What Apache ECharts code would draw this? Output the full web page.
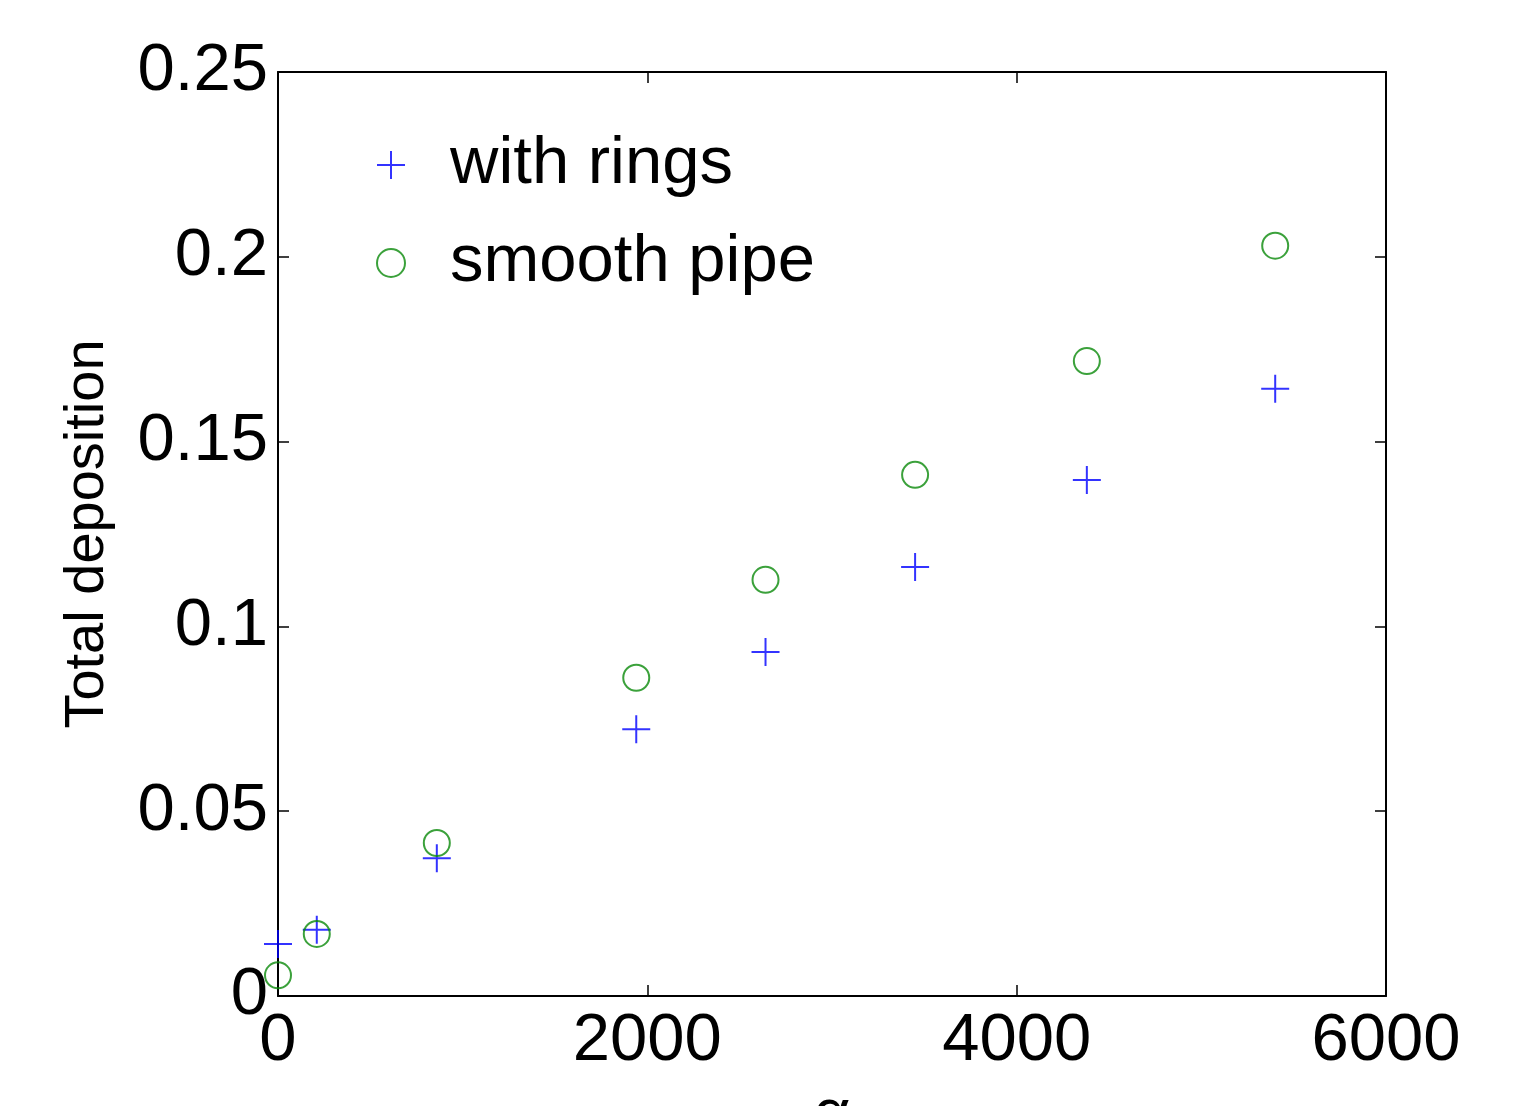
<!DOCTYPE html>
<html>
<head>
<meta charset="utf-8">
<script src="https://cdn.jsdelivr.net/npm/echarts@6/dist/echarts.min.js"></script>
<style>
html,body{margin:0;padding:0;background:#fff;}
#chart{width:1527px;height:1106px;}
</style>
</head>
<body>
<div id="chart"></div>
<script>
const alphaValues = [0, 210, 860, 1940, 2640, 3450, 4380, 5400];
const withRings = [0.0141, 0.0179, 0.0373, 0.0722, 0.0931, 0.1161, 0.1396, 0.1643];
const smoothPipe = [0.0056, 0.0168, 0.0414, 0.0861, 0.1126, 0.141, 0.1718, 0.203];
const seriesNames = ['with rings', 'smooth pipe'];
const xTicks = [0, 2000, 4000, 6000];
const yTicks = [0, 0.05, 0.1, 0.15, 0.2, 0.25];

const FONT = '"Liberation Sans", Arial, sans-serif';
const PLUS = 'path://M0,5 L10,5 M5,0 L5,10';

const chart = echarts.init(document.getElementById('chart'), null, {renderer: 'canvas'});

const axisLine = {show: true, onZero: false, lineStyle: {color: '#000', width: 2}};
const axisTick = {show: true, inside: true, length: 11, lineStyle: {color: '#000', width: 1.5}};

chart.setOption({
  backgroundColor: '#fff',
  animation: false,
  grid: {left: 278, right: 141, top: 72, bottom: 110, containLabel: false, outerBoundsMode: 'none'},
  legend: {
    orient: 'vertical',
    left: 371,
    top: 125,
    itemWidth: 28,
    itemHeight: 28,
    itemGap: 28,
    textStyle: {fontFamily: FONT, fontSize: 67, color: '#000', lineHeight: 70, padding: [0, 0, 0, 40]},
    data: seriesNames
  },
  xAxis: [
    {
      type: 'value', position: 'bottom', min: xTicks[0], max: xTicks[xTicks.length - 1], interval: 2000,
      axisLine: axisLine, axisTick: axisTick, splitLine: {show: false},
      axisLabel: {fontFamily: FONT, fontSize: 67, color: '#000', margin: 12, formatter: v => String(v)},
      name: 'α', nameLocation: 'middle', nameGap: 88,
      nameTextStyle: {fontFamily: FONT, fontSize: 64, color: '#000'}
    },
    {
      type: 'value', position: 'top', min: xTicks[0], max: xTicks[xTicks.length - 1], interval: 2000,
      axisLine: axisLine, axisTick: axisTick, splitLine: {show: false}, axisLabel: {show: false}
    }
  ],
  yAxis: [
    {
      type: 'value', position: 'left', min: yTicks[0], max: yTicks[yTicks.length - 1], interval: 0.05,
      axisLine: axisLine, axisTick: axisTick, splitLine: {show: false},
      axisLabel: {fontFamily: FONT, fontSize: 67, color: '#000', margin: 10},
      name: 'Total deposition', nameLocation: 'middle', nameGap: 162, nameRotate: 90,
      nameTextStyle: {fontFamily: FONT, fontSize: 56, color: '#000'}
    },
    {
      type: 'value', position: 'right', min: yTicks[0], max: yTicks[yTicks.length - 1], interval: 0.05,
      axisLine: axisLine, axisTick: axisTick, splitLine: {show: false}, axisLabel: {show: false}
    }
  ],
  series: [
    {
      name: seriesNames[0], type: 'scatter', clip: false,
      symbol: PLUS, symbolSize: 28,
      itemStyle: {color: 'rgba(0,0,0,0)', borderColor: '#0000ff', borderWidth: 2},
      data: alphaValues.map((a, i) => [a, withRings[i]])
    },
    {
      name: seriesNames[1], type: 'scatter', clip: false,
      symbol: 'circle', symbolSize: 26,
      itemStyle: {color: 'rgba(0,0,0,0)', borderColor: '#0a8a0a', borderWidth: 2},
      data: alphaValues.map((a, i) => [a, smoothPipe[i]])
    }
  ]
});
</script>
</body>
</html>
